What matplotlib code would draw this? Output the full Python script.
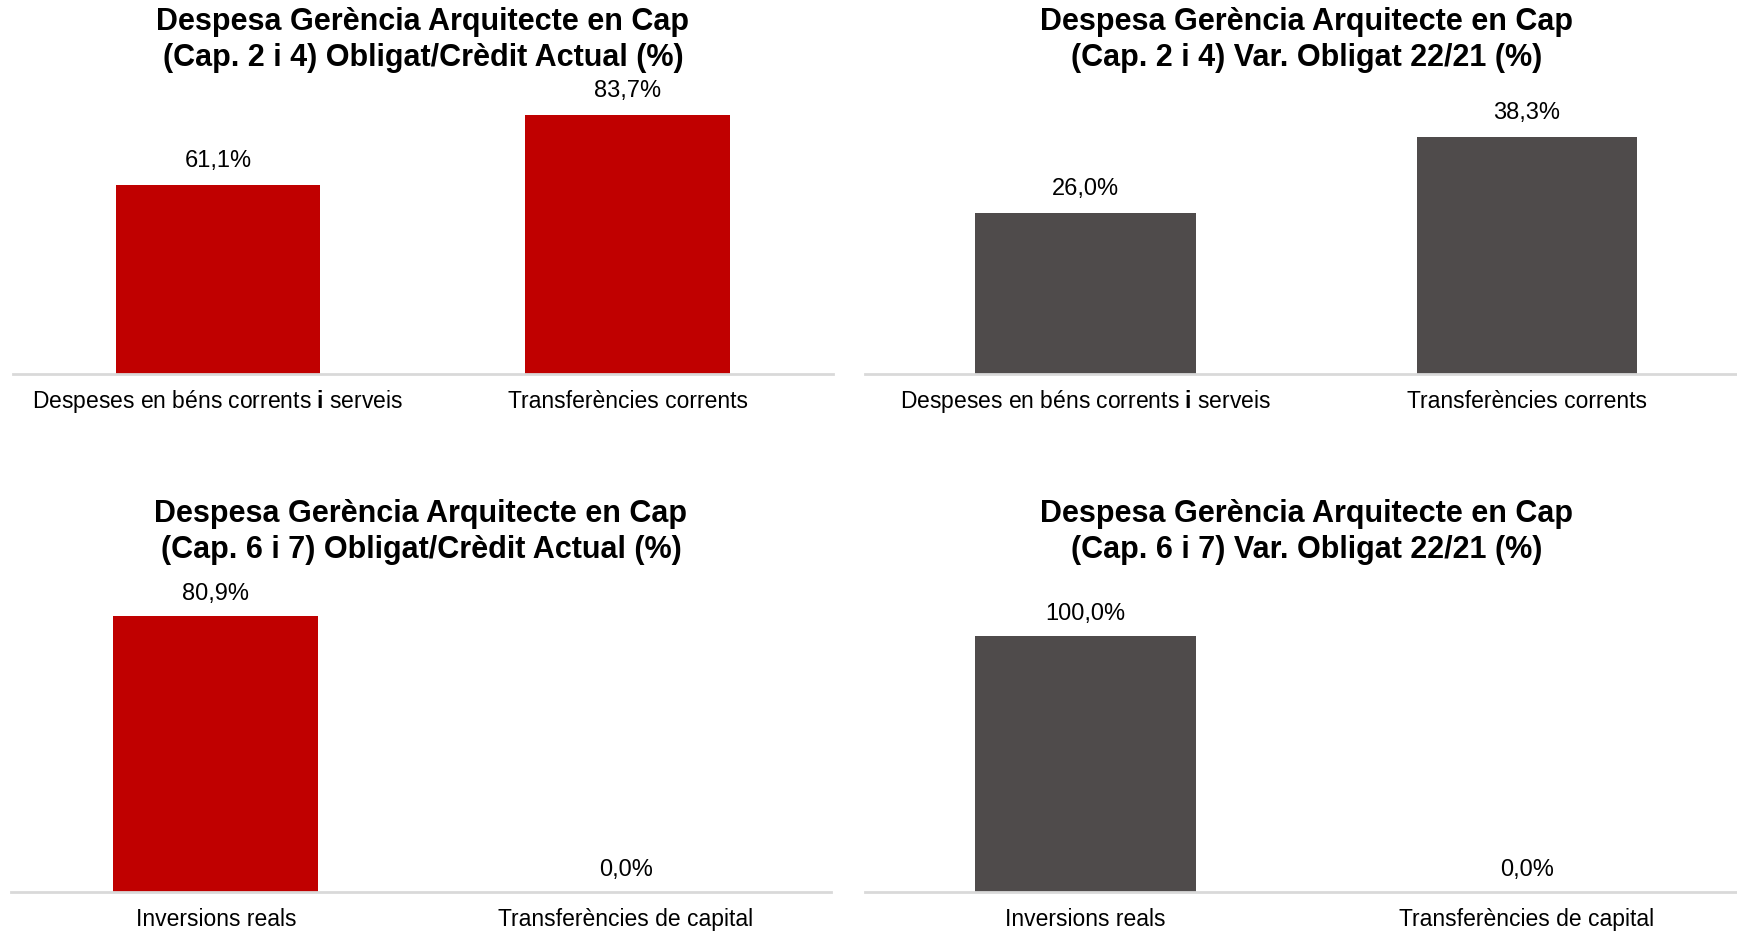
import matplotlib
matplotlib.use("Agg")
import matplotlib.pyplot as plt

plt.rcParams['font.family'] = ['Liberation Sans', 'DejaVu Sans']
plt.rcParams['mathtext.fontset'] = 'custom'
plt.rcParams['mathtext.rm'] = 'Liberation Sans'
plt.rcParams['mathtext.bf'] = 'Liberation Sans:bold'

# data
cats_top = ["Despeses en béns corrents $\\mathbf{i}$ serveis", "Transferències corrents"]
cats_bottom = ["Inversions reals", "Transferències de capital"]
oblig_top = [61.1, 83.7]
var_top = [26.0, 38.3]
oblig_bottom = [80.9, 0.0]
var_bottom = [100.0, 0.0]

titles = [
    "Despesa Gerència Arquitecte en Cap\n(Cap. 2 i 4) Obligat/Crèdit Actual (%)",
    "Despesa Gerència Arquitecte en Cap\n(Cap. 2 i 4) Var. Obligat 22/21 (%)",
    "Despesa Gerència Arquitecte en Cap\n(Cap. 6 i 7) Obligat/Crèdit Actual (%)",
    "Despesa Gerència Arquitecte en Cap\n(Cap. 6 i 7) Var. Obligat 22/21 (%)",
]

RED = "#C00000"
GREY = "#4F4B4B"

W, H = 1737, 931
fig = plt.figure(figsize=(W / 100, H / 100), dpi=100)

panels = [
    # (rect, cats, values, color, ymax, title_top_px, label_offset_px)
    ([0.0075, 0.598, 0.472, 0.333], cats_top, oblig_top, RED, 100, 7, 24),
    ([0.498, 0.598, 0.508, 0.333], cats_top, var_top, GREY, 50, 7, 24),
    ([0.0063, 0.042, 0.472, 0.330], cats_bottom, oblig_bottom, RED, 90, 499, 22),
    ([0.498, 0.042, 0.508, 0.330], cats_bottom, var_bottom, GREY, 120, 499, 22),
]

for (rect, cats, vals, col, ymax, ttop, off), title in zip(panels, titles):
    ax = fig.add_axes(rect)
    x = list(range(len(cats)))
    bars = ax.bar(x, vals, width=0.5, color=col)
    ax.set_xlim(-0.5, len(cats) - 0.5)
    ax.set_ylim(0, ymax)
    for b, v in zip(bars, vals):
        ax.annotate(f"{v:.1f}%".replace(".", ","),
                    (b.get_x() + b.get_width() / 2, v),
                    xytext=(0, off), textcoords="offset pixels",
                    ha="center", va="center", fontsize=17)
    ax.set_xticks(x)
    ax.set_xticklabels(cats, fontsize=16.5, va="baseline")
    ax.tick_params(axis="x", length=0, pad=24.5)
    ax.set_yticks([])
    for s in ["top", "left", "right"]:
        ax.spines[s].set_visible(False)
    ax.spines["bottom"].set_color("#D9D9D9")
    ax.spines["bottom"].set_linewidth(2)
    cx = rect[0] + rect[2] / 2
    fig.text(cx, 1 - ttop / H, title, ha="center", va="top",
             fontsize=22, fontweight="bold", linespacing=1.27)

fig.savefig("out.png", dpi=100)
